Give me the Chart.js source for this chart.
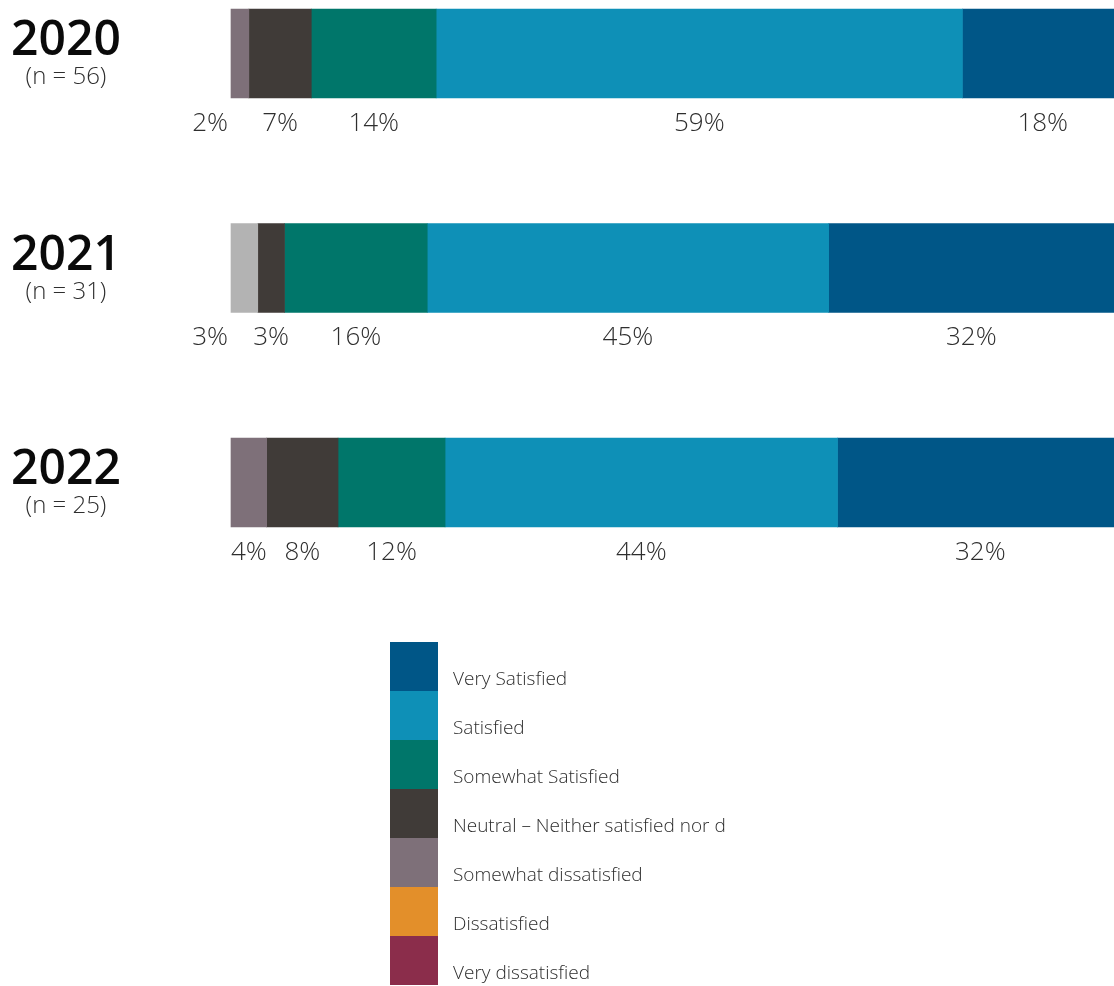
<!DOCTYPE html>
<html>
<head>
<meta charset="utf-8">
<title>Satisfaction by year</title>
<script src="https://cdn.jsdelivr.net/npm/chart.js@4/dist/chart.umd.min.js"></script>
<style>
    html, body { margin: 0; padding: 0; background: #fff; overflow: hidden; }
    #wrap { position: relative; width: 1123px; height: 986px; }
</style>
</head>
<body>
<div id="wrap"><canvas id="satChart" width="1123" height="986"></canvas></div>
<script>
// Survey data (percent of respondents)
const years = ['2020', '2021', '2022'];
const sampleSizes = [56, 31, 25];

const categories = [
    'Very dissatisfied',
    'Dissatisfied',
    'Somewhat dissatisfied',
    'Neutral – Neither satisfied nor d',
    'Somewhat Satisfied',
    'Satisfied',
    'Very Satisfied'
];

const veryDissatisfied = [0, 0, 0];
const dissatisfied = [0, 0, 0];
const somewhatDissatisfied = [2, 3, 4];
const neutral = [7, 3, 8];
const somewhatSatisfied = [14, 16, 12];
const satisfied = [59, 45, 44];
const verySatisfied = [18, 32, 32];

const seriesValues = [veryDissatisfied, dissatisfied, somewhatDissatisfied, neutral,
    somewhatSatisfied, satisfied, verySatisfied];

const colors = ['#8b2d4b', '#e38f2a', '#7e7079', '#403b38', '#00766a', '#0e90b7', '#005687'];
// 2021 shows the somewhat-dissatisfied segment in light grey
const barColors = colors.map((c, i) => i === 2 ? [c, '#b3b3b3', c] : c);

const FONT = '"Open Sans", "Noto Sans", sans-serif';

/**
 * Year + sample size labels on the left
 */
const yearLabels = {
    id: 'yearLabels',
    afterDraw(chart) {
        const { ctx } = chart;
        const yScale = chart.scales.y;
        ctx.save();
        ctx.textAlign = 'center';
        ctx.textBaseline = 'middle';
        years.forEach((yr, i) => {
            const cy = yScale.getPixelForValue(i);
            ctx.fillStyle = '#0a0a0a';
            ctx.font = '600 48px ' + FONT;
            ctx.fillText(yr, 66, cy - 12);
            ctx.font = '300 24px ' + FONT;
            ctx.fillStyle = '#2e2e2e';
            ctx.fillText(`(n = ${sampleSizes[i]})`, 66, cy + 24);
        });
        ctx.restore();
    }
};

/**
 * Percent labels under each segment
 * (first segment is pushed outside to the left when it is too narrow)
 */
const segmentLabels = {
    id: 'segmentLabels',
    afterDatasetsDraw(chart) {
        const { ctx } = chart;
        ctx.save();
        ctx.font = '300 26px ' + FONT;
        ctx.fillStyle = '#2e2e2e';
        ctx.textBaseline = 'middle';
        years.forEach((yr, i) => {
            let first = true;
            chart.data.datasets.forEach((ds, di) => {
                const v = ds.data[i];
                if (!v) return;
                const bar = chart.getDatasetMeta(di).data[i];
                const left = Math.min(bar.x, bar.base);
                const right = Math.max(bar.x, bar.base);
                const text = v + '%';
                const w = ctx.measureText(text).width;
                const y = bar.y + 70;
                if (first && w > right - left + 4) {
                    ctx.textAlign = 'right';
                    ctx.fillText(text, left - 3, y);
                } else {
                    ctx.textAlign = 'center';
                    ctx.fillText(text, (left + right) / 2, y);
                }
                first = false;
            });
        });
        ctx.restore();
    }
};

/**
 * Vertical swatch legend
 */
const swatchLegend = {
    id: 'swatchLegend',
    afterDraw(chart) {
        const { ctx } = chart;
        const boxX = 390, boxW = 48, boxH = 49, top = 642;
        ctx.save();
        ctx.font = '300 19px ' + FONT;
        ctx.textAlign = 'left';
        ctx.textBaseline = 'middle';
        const items = categories.map((c, i) => ({ label: c, color: colors[i] })).reverse();
        items.forEach((item, k) => {
            const y = top + k * boxH;
            ctx.fillStyle = item.color;
            ctx.fillRect(boxX, y, boxW, boxH);
            ctx.fillStyle = '#2e2e2e';
            ctx.fillText(item.label, 453, y + boxH / 2 + 13);
        });
        ctx.restore();
    }
};

const ctx = document.getElementById('satChart').getContext('2d');
new Chart(ctx, {
    type: 'bar',
    data: {
        labels: years,
        datasets: categories.map((name, i) => ({
            label: name,
            // empty categories get no segment at all
            data: seriesValues[i].map(v => (v === 0 ? null : v)),
            backgroundColor: barColors[i],
            borderWidth: 0,
            barThickness: 89,
            clip: false
        }))
    },
    options: {
        indexAxis: 'y',
        responsive: false,
        animation: false,
        layout: { padding: { left: 231, right: 0, top: 53.5, bottom: 503.5 } },
        scales: {
            x: { stacked: true, min: 0, max: 100, display: false },
            y: { stacked: true, offset: false, display: false }
        },
        plugins: {
            legend: { display: false },
            tooltip: { enabled: false }
        }
    },
    plugins: [yearLabels, segmentLabels, swatchLegend]
});
</script>
</body>
</html>
